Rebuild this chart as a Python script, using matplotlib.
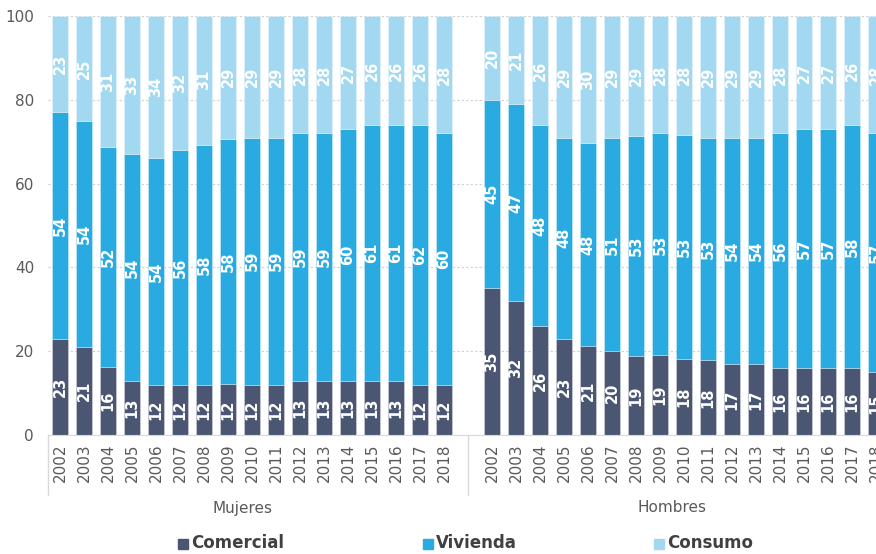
import matplotlib
matplotlib.use("Agg")
import matplotlib.pyplot as plt
import matplotlib.transforms as mtransforms
from matplotlib.patches import Rectangle
import numpy as np

# data (percent of credit by type)
years = [str(y) for y in range(2002, 2019)]

mujeres_comercial = [23, 21, 16, 13, 12, 12, 12, 12, 12, 12, 13, 13, 13, 13, 13, 12, 12]
mujeres_vivienda = [54, 54, 52, 54, 54, 56, 58, 58, 59, 59, 59, 59, 60, 61, 61, 62, 60]
mujeres_consumo = [23, 25, 31, 33, 34, 32, 31, 29, 29, 29, 28, 28, 27, 26, 26, 26, 28]

hombres_comercial = [35, 32, 26, 23, 21, 20, 19, 19, 18, 18, 17, 17, 16, 16, 16, 16, 15]
hombres_vivienda = [45, 47, 48, 48, 48, 51, 53, 53, 53, 53, 54, 54, 56, 57, 57, 58, 57]
hombres_consumo = [20, 21, 26, 29, 30, 29, 29, 28, 28, 29, 29, 29, 28, 27, 27, 26, 28]

groups = ["Mujeres", "Hombres"]
series = ["Comercial", "Vivienda", "Consumo"]
colors = ["#4b5672", "#29abe2", "#a3d9f0"]
grey = "#595959"

W, H = 876, 554
fig = plt.figure(figsize=(W / 100, H / 100), dpi=100)
ax = fig.add_axes([48 / W, 1 - 435 / H, 828 / W, 419 / H])

group_data = [
    (0, [mujeres_comercial, mujeres_vivienda, mujeres_consumo]),
    (18, [hombres_comercial, hombres_vivienda, hombres_consumo]),
]

tick_pos = []
for offset, vals in group_data:
    x = np.arange(len(years)) + offset
    tick_pos.extend(x)
    arr = np.array(vals, dtype=float)
    pct = arr / arr.sum(axis=0) * 100  # stack always reaches 100
    bottom = np.zeros(len(years))
    for i, color in enumerate(colors):
        ax.bar(x, pct[i], 0.7, bottom=bottom, color=color,
               edgecolor=(1, 1, 1, 0.35), linewidth=0.6, zorder=2)
        for xi, b, h, v in zip(x, bottom, pct[i], vals[i]):
            ax.text(xi, b + h / 2, str(v), rotation=90, ha="center", va="center",
                    color="white", fontweight="bold", fontsize=10.5, zorder=3)
        bottom += pct[i]

ax.set_xlim(-0.5, 34)
ax.set_ylim(0, 100)
ax.set_yticks(range(0, 101, 20))
ax.tick_params(axis="y", length=0, pad=10, labelsize=11, labelcolor=grey)
ax.yaxis.grid(True, linestyle=(0, (2, 2)), color="#cfcfcf", linewidth=0.8)
ax.set_axisbelow(True)

ax.set_xticks(tick_pos)
ax.set_xticklabels(years * 2, rotation=90)
ax.tick_params(axis="x", length=0, pad=6, labelsize=11, labelcolor=grey)

for s in ["top", "right", "left"]:
    ax.spines[s].set_visible(False)
ax.spines["bottom"].set_color("#d9d9d9")

# group separators and group names under the year labels
trans = mtransforms.blended_transform_factory(ax.transData, ax.transAxes)
for xs in [-0.5, 17]:
    ax.plot([xs, xs], [0, -60 / 419], transform=trans, color="#d9d9d9",
            linewidth=1, clip_on=False)
for xg, name in zip([7.6, 25.5], groups):
    ax.text(xg, -73 / 419, name, transform=trans, ha="center", va="center",
            fontsize=11, color=grey)

# legend drawn by hand along the bottom
for label, color, xsq, xtxt in zip(series, colors, [178, 423, 654], [191, 436, 667]):
    fig.patches.append(Rectangle((xsq / W, 1 - 549 / H), 10 / W, 10 / H,
                                 transform=fig.transFigure, color=color))
    fig.text(xtxt / W, 1 - 543 / H, label, fontweight="bold", fontsize=12,
             color="#404040", va="center", ha="left")

fig.savefig("out.png", dpi=100)
